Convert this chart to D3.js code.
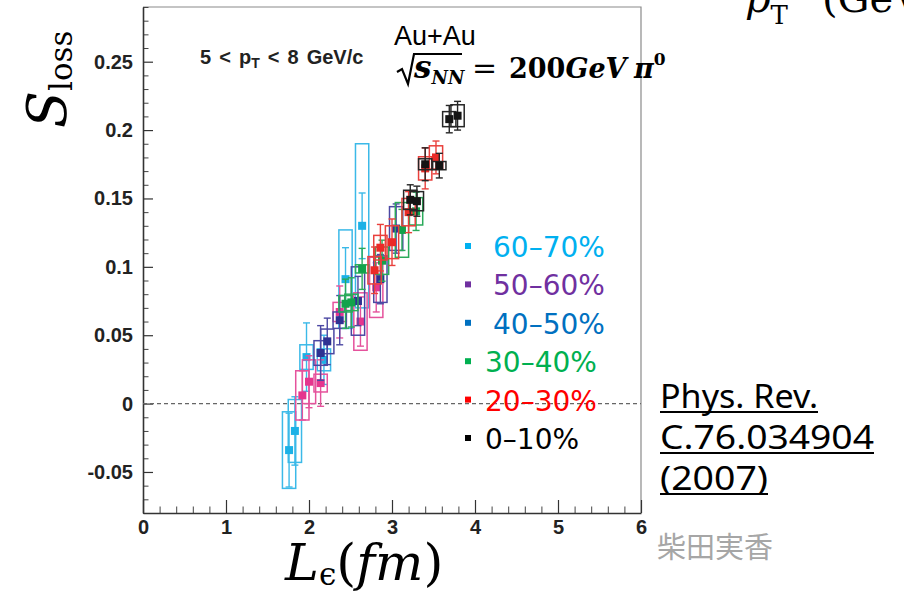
<!DOCTYPE html>
<html>
<head>
<meta charset="utf-8">
<script src="https://cdn.jsdelivr.net/npm/d3@7/dist/d3.min.js"></script>
<style>
  html, body { margin: 0; padding: 0; background: #fff; }
  svg { display: block; }
</style>
</head>
<body>
<svg id="chart" width="904" height="591"></svg>
<script>
// Centrality classes (legend order, peripheral to central)
const classes = ["60–70%", "50–60%", "40–50%", "30–40%", "20–30%", "0–10%"];

// Path length L_ε (fm) of each reaction-plane bin, per class
const len6070 = [1.76, 1.83, 1.97, 2.18, 2.44, 2.64];
const len5060 = [1.92, 2.00, 2.14, 2.37, 2.62, 2.81];
const len4050 = [2.14, 2.22, 2.37, 2.59, 2.86, 3.05];
const len3040 = [2.44, 2.51, 2.64, 2.88, 3.12, 3.29];
const len2030 = [2.79, 2.86, 3.00, 3.20, 3.40, 3.53];
const len0010 = [3.22, 3.30, 3.40, 3.57, 3.69, 3.79];

// Fractional momentum loss S_loss
const sloss6070 = [-0.034, -0.020, 0.034, 0.032, 0.091, 0.130];
const sloss5060 = [0.006, 0.016, 0.015, 0.067, 0.060, 0.085];
const sloss4050 = [0.037, 0.0455, 0.061, 0.075, 0.091, 0.128];
const sloss3040 = [0.073, 0.074, 0.0985, 0.1045, 0.127, 0.1406];
const sloss2030 = [0.0975, 0.114, 0.118, 0.140, 0.172, 0.180];
const sloss0010 = [0.149, 0.148, 0.175, 0.174, 0.208, 0.2105];

// Statistical errors (bars)
const stat6070 = [0.027, 0.025, 0.025, 0.018, 0.023, 0.024];
const stat5060 = [0.018, 0.019, 0.017, 0.019, 0.018, 0.018];
const stat4050 = [0.020, 0.017, 0.018, 0.018, 0.018, 0.018];
const stat3040 = [0.018, 0.018, 0.015, 0.015, 0.015, 0.014];
const stat2030 = [0.017, 0.017, 0.017, 0.015, 0.015, 0.012];
const stat0010 = [0.011, 0.011, 0.012, 0.009, 0.010, 0.0105];

// Systematic errors (boxes)
const sys6070 = [0.028, 0.023, 0.009, 0.008, 0.036, 0.060];
const sys5060 = [0.018, 0.016, 0.0065, 0.007, 0.021, 0.022];
const sys4050 = [0.009, 0.009, 0.006, 0.025, 0.017, 0.016];
const sys3040 = [0.006, 0.006, 0.003, 0.010, 0.020, 0.010];
const sys2030 = [0.010, 0.009, 0.012, 0.010, 0.0085, 0.0085];
const sys0010 = [0.007, 0.007, 0.004, 0.003, 0.0055, 0.008];

// Axis ticks
const xTicks = [0, 1, 2, 3, 4, 5, 6];
const xTickLabels = ["0", "1", "2", "3", "4", "5", "6"];
const yTicks = [-0.05, 0, 0.05, 0.1, 0.15, 0.2, 0.25];
const yTickLabels = ["-0.05", "0", "0.05", "0.1", "0.15", "0.2", "0.25"];

// Reference lines
const citation = ["Phys. Rev.", "C.76.034904", "(2007)"];

const series = [
  { name: classes[0], L: len6070, S: sloss6070, stat: stat6070, sys: sys6070 },
  { name: classes[1], L: len5060, S: sloss5060, stat: stat5060, sys: sys5060 },
  { name: classes[2], L: len4050, S: sloss4050, stat: stat4050, sys: sys4050 },
  { name: classes[3], L: len3040, S: sloss3040, stat: stat3040, sys: sys3040 },
  { name: classes[4], L: len2030, S: sloss2030, stat: stat2030, sys: sys2030 },
  { name: classes[5], L: len0010, S: sloss0010, stat: stat0010, sys: sys0010 }
];

// Marker colours in the plot and text colours in the legend
const markColor = {
  "60–70%": "#1cb1e6", "50–60%": "#e5358e", "40–50%": "#2f3192",
  "30–40%": "#12a24b", "20–30%": "#eb2a27", "0–10%": "#141414"
};
const boxColor = {
  "60–70%": "#3bb9e8", "50–60%": "#e5529c", "40–50%": "#4c48a3",
  "30–40%": "#2aaa5a", "20–30%": "#e9403c", "0–10%": "#262626"
};
const legendColor = {
  "60–70%": "#00b0f0", "50–60%": "#7030a0", "40–50%": "#0070c0",
  "30–40%": "#00b050", "20–30%": "#ff0000", "0–10%": "#000000"
};

const svg = d3.select("#chart");
const x = d3.scaleLinear().domain([0, 6]).range([143, 641]);
const y = d3.scaleLinear().domain([-0.08, 0.29]).range([513, 7]);

// Frame (top and right edges)
svg.append("path")
  .attr("d", `M${x(0)},${y(0.29)}H${x(6)}V${y(-0.08)}`)
  .attr("fill", "none").attr("stroke", "#8a8a8a").attr("stroke-width", 1.2);

// Minor ticks
const xMinor = d3.range(0, 31).map(k => k / 5).filter(v => Math.abs(v - Math.round(v)) > 1e-6);
const yMinor = d3.range(-8, 30).map(k => k / 100).filter(v => Math.abs(v * 20 - Math.round(v * 20)) > 1e-6);

const tickFont = "'Liberation Sans', Arial, sans-serif";

svg.append("g").attr("transform", `translate(0,${y(-0.08)})`)
  .call(d3.axisBottom(x).tickValues(xMinor).tickSize(-6.5).tickSizeOuter(0).tickFormat(""))
  .call(g => g.select(".domain").remove())
  .call(g => g.selectAll("line").attr("stroke", "#444").attr("stroke-width", 1));

svg.append("g").attr("transform", `translate(${x(0)},0)`)
  .call(d3.axisLeft(y).tickValues(yMinor).tickSize(-5.5).tickSizeOuter(0).tickFormat(""))
  .call(g => g.select(".domain").remove())
  .call(g => g.selectAll("line").attr("stroke", "#444").attr("stroke-width", 1));

// Major axes
svg.append("g").attr("transform", `translate(0,${y(-0.08)})`)
  .call(d3.axisBottom(x).tickValues(xTicks).tickSize(-13).tickSizeOuter(0).tickPadding(7)
        .tickFormat((d, i) => xTickLabels[i]))
  .call(g => g.select(".domain").attr("stroke", "#333").attr("stroke-width", 1.6))
  .call(g => g.selectAll(".tick line").attr("stroke", "#333").attr("stroke-width", 1.2))
  .call(g => g.selectAll("text").attr("font-family", tickFont).attr("font-weight", "bold")
        .attr("font-size", 20).attr("fill", "#222"));

svg.append("g").attr("transform", `translate(${x(0)},0)`)
  .call(d3.axisLeft(y).tickValues(yTicks).tickSize(-10).tickSizeOuter(0).tickPadding(10)
        .tickFormat((d, i) => yTickLabels[i]))
  .call(g => g.select(".domain").attr("stroke", "#333").attr("stroke-width", 1.6))
  .call(g => g.selectAll(".tick line").attr("stroke", "#333").attr("stroke-width", 1.2))
  .call(g => g.selectAll("text").attr("font-family", tickFont).attr("font-weight", "bold")
        .attr("font-size", 20).attr("fill", "#222"));

// Zero line
svg.append("line")
  .attr("x1", x(0)).attr("x2", x(6)).attr("y1", y(0)).attr("y2", y(0))
  .attr("stroke", "#666").attr("stroke-width", 1.2).attr("stroke-dasharray", "4,3");

// Data: systematic boxes, statistical bars, square markers
const halfBox = 0.08;
const capHalf = 3.5;
const markSize = 8;

series.forEach(s => {
  const pts = s.L.map((L, i) => ({ L, S: s.S[i], stat: s.stat[i], sys: s.sys[i] }));
  const g = svg.append("g").attr("class", "series");
  g.selectAll("rect.box").data(pts).join("rect").attr("class", "box")
    .attr("x", d => x(d.L - halfBox)).attr("width", d => x(d.L + halfBox) - x(d.L - halfBox))
    .attr("y", d => y(d.S + d.sys)).attr("height", d => y(d.S - d.sys) - y(d.S + d.sys))
    .attr("fill", "none").attr("stroke", boxColor[s.name]).attr("stroke-width", 1.5);
  g.selectAll("line.bar").data(pts).join("line").attr("class", "bar")
    .attr("x1", d => x(d.L)).attr("x2", d => x(d.L))
    .attr("y1", d => y(d.S + d.stat)).attr("y2", d => y(d.S - d.stat))
    .attr("stroke", boxColor[s.name]).attr("stroke-width", 1.4);
  ["hi", "lo"].forEach(side => {
    const edge = d => (side === "hi" ? d.S + d.stat : d.S - d.stat);
    g.selectAll(`line.cap-${side}`).data(pts).join("line")
      .attr("class", `cap-${side}`)
      .attr("x1", d => x(d.L) - capHalf).attr("x2", d => x(d.L) + capHalf)
      .attr("y1", d => y(edge(d))).attr("y2", d => y(edge(d)))
      .attr("stroke", boxColor[s.name]).attr("stroke-width", 1.4);
  });
  g.selectAll("rect.mark").data(pts).join("rect").attr("class", "mark")
    .attr("x", d => x(d.L) - markSize / 2).attr("y", d => y(d.S) - markSize / 2)
    .attr("width", markSize).attr("height", markSize)
    .attr("fill", markColor[s.name]);
});

// In-frame labels
const kin = svg.append("text").attr("x", 200).attr("y", 64)
  .attr("font-family", tickFont).attr("font-weight", "bold").attr("font-size", 20)
  .attr("fill", "#222").attr("word-spacing", 2.5).attr("xml:space", "preserve");
kin.append("tspan").text("5 < p");
kin.append("tspan").attr("font-size", 14).attr("dy", 4).text("T");
kin.append("tspan").attr("dy", -4).text(" < 8 GeV/c");

svg.append("text").attr("x", 394).attr("y", 45)
  .attr("font-family", tickFont).attr("font-size", 27).attr("fill", "#000").text("Au+Au");

// √s_NN = 200GeV π0
const mathFont = "'DejaVu Serif', serif";
svg.append("path")
  .attr("d", "M397,72 L402,69 L408,84 L414,54 L462,54")
  .attr("fill", "none").attr("stroke", "#000").attr("stroke-width", 2.2).attr("stroke-linejoin", "miter");
const eq = svg.append("text").attr("y", 78).attr("font-family", mathFont).attr("font-weight", "bold").attr("fill", "#000");
eq.append("tspan").attr("x", 414).attr("font-size", 31).attr("font-style", "italic").text("s");
eq.append("tspan").attr("font-size", 18).attr("font-style", "italic").attr("dy", 6).text("NN");
eq.append("tspan").attr("x", 472).attr("dy", -6).attr("font-size", 30).attr("font-weight", "normal").text("=");
eq.append("tspan").attr("x", 509).attr("font-size", 27).text("200");
eq.append("tspan").attr("font-size", 27).attr("font-style", "italic").text("GeV");
eq.append("tspan").attr("x", 634).attr("font-size", 27).attr("font-style", "italic").text("π");
eq.append("tspan").attr("dy", -13).attr("font-size", 17).text("0");

// Legend
const legendFont = "'DejaVu Sans', sans-serif";
classes.forEach((c, i) => {
  const base = 257 + i * 38.4;
  svg.append("rect").attr("x", 465).attr("y", base - 14).attr("width", 6).attr("height", 6)
    .attr("fill", legendColor[c]);
  svg.append("text").attr("x", i < 3 ? 493 : 485).attr("y", base)
    .attr("font-family", legendFont).attr("font-size", 28).attr("fill", legendColor[c]).text(c);
});

// Citation
const citeFont = "'Noto Sans', sans-serif";
const citeBase = [408, 449, 490];
const citeLen = [158, 214, 108];
citation.forEach((t, i) => {
  svg.append("text").attr("x", 660).attr("y", citeBase[i])
    .attr("font-family", citeFont).attr("font-size", 33).attr("fill", "#000")
    .attr("textLength", citeLen[i]).attr("lengthAdjust", "spacingAndGlyphs").text(t);
  svg.append("line").attr("x1", 660).attr("x2", 660 + citeLen[i])
    .attr("y1", citeBase[i] + 4).attr("y2", citeBase[i] + 4)
    .attr("stroke", "#000").attr("stroke-width", 2);
});

// Author
svg.append("text").attr("x", 657).attr("y", 558)
  .attr("font-family", "'Noto Sans CJK JP', sans-serif").attr("font-size", 29)
  .attr("fill", "#a6a6a6").text("柴田実香");

// Axis titles
const xt = svg.append("text").attr("x", 285).attr("y", 580)
  .attr("font-family", mathFont).attr("font-size", 51).attr("fill", "#000");
xt.append("tspan").attr("font-style", "italic").text("L");
xt.append("tspan").attr("font-size", 31).attr("dy", 5).text("ϵ");
xt.append("tspan").attr("dy", -5).text("(");
xt.append("tspan").attr("font-style", "italic").text("fm");
xt.append("tspan").text(")");

const yt = svg.append("text").attr("transform", "translate(66,128) rotate(-90)")
  .attr("font-family", mathFont).attr("font-size", 54).attr("fill", "#000");
yt.append("tspan").attr("font-style", "italic").text("S");
yt.append("tspan").attr("font-size", 31).attr("dy", 6).text("loss");

// Axis title of the neighbouring panel, running off the page top
const pt = svg.append("text").attr("x", 745).attr("y", 12)
  .attr("font-family", mathFont).attr("font-size", 40).attr("fill", "#000");
pt.append("tspan").attr("font-style", "italic").text("p");
pt.append("tspan").attr("font-size", 26).attr("dy", 12).text("T");
pt.append("tspan").attr("x", 822).attr("dy", -12).text("(GeV/c)");
</script>
</body>
</html>
